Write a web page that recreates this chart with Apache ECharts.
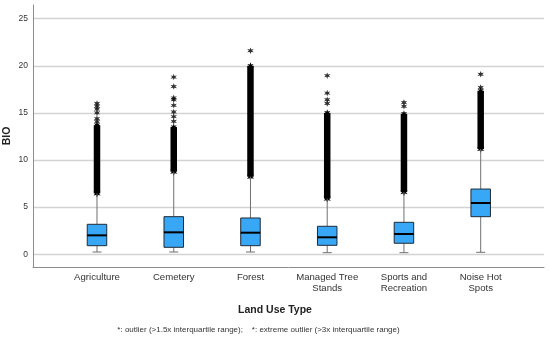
<!DOCTYPE html>
<html><head><meta charset="utf-8">
<script src="https://cdn.jsdelivr.net/npm/echarts@6/dist/echarts.min.js"></script>
<style>html,body{margin:0;padding:0;background:#fff}#c{width:550px;height:337px}</style>
</head><body><div id="c"></div>
<script>
const categories = ['Agriculture', 'Cemetery', 'Forest', 'Managed Tree\nStands', 'Sports and\nRecreation', 'Noise Hot\nSpots'];
// [lower whisker, Q1, median, Q3, upper whisker]
const boxStats = [
  [0.24, 0.91, 2.01, 3.18, 6.45],
  [0.24, 0.74, 2.33, 3.99, 8.76],
  [0.24, 0.91, 2.29, 3.85, 8.23],
  [0.17, 0.95, 1.80, 2.97, 5.90],
  [0.17, 1.17, 2.15, 3.39, 6.60],
  [0.21, 3.99, 5.44, 6.92, 11.17]
];
// ranges where outlier symbols overlap into a solid column
const denseOutlierRanges = [
  [6.45, 13.7], [8.76, 13.5], [8.23, 20.0], [5.90, 15.0], [6.60, 14.9], [11.17, 17.35]
];
// individually visible outliers
const sparseOutliers = [
  [14.07, 14.4, 15.0, 15.4, 15.7, 16.0],
  [14.1, 14.6, 15.1, 15.8, 16.4, 16.6, 17.8, 18.8],
  [21.6],
  [16.0, 16.4, 17.1, 18.95],
  [15.7, 16.1],
  [17.7, 19.1]
];
const yTicks = [0, 5, 10, 15, 20, 25];
const xTicks = [0, 1, 2, 3, 4, 5];
const yTitle = 'BIO';
const xTitle = 'Land Use Type';
const footnote = '*: outlier (>1.5x interquartile range);    *: extreme outlier (>3x interquartile range)';

function starPoints(cx, cy, r) {
  const pts = [];
  for (let k = 0; k < 12; k++) {
    const rr = k % 2 ? r * 0.42 : r;
    const a = Math.PI * k / 6 - Math.PI / 2;
    pts.push([cx + rr * Math.cos(a), cy + rr * Math.sin(a)]);
  }
  return pts;
}
function starPath() {
  return 'path://' + starPoints(0, 0, 1).map((p, k) => (k ? 'L' : 'M') + p[0].toFixed(3) + ' ' + p[1].toFixed(3)).join('') + 'Z';
}

const FONT = '"Liberation Sans", Arial, sans-serif';
const chart = echarts.init(document.getElementById('c'), null, {renderer: 'canvas'});

const option = {
  animation: false,
  backgroundColor: '#fff',
  grid: {left: 33, right: 6, top: 5, bottom: 70, containLabel: false},
  xAxis: {
    type: 'value', min: -0.834, max: 5.825,
    axisLine: {show: true, onZero: false, lineStyle: {color: '#8c8c8c', width: 1}},
    axisTick: {show: false, customValues: xTicks},
    splitLine: {show: false},
    axisLabel: {
      customValues: xTicks,
      formatter: v => categories[Math.round(v)],
      fontSize: 9.6, color: '#333', lineHeight: 11, margin: 5, fontFamily: FONT
    }
  },
  yAxis: {
    type: 'value', min: -1.35, max: 26.45,
    axisLine: {show: true, onZero: false, lineStyle: {color: '#8c8c8c', width: 1}},
    axisTick: {show: false, customValues: yTicks},
    axisLabel: {customValues: yTicks, fontSize: 8.5, color: '#333', margin: 5, fontFamily: FONT},
    splitLine: {show: true, lineStyle: {color: '#d3d3d3', width: 1.3}}
  },
  graphic: [
    {type: 'text', x: 7.5, y: 136, rotation: Math.PI / 2,
     style: {text: yTitle, font: 'bold 10.5px ' + FONT, fill: '#222', align: 'center', verticalAlign: 'middle'}},
    {type: 'text', x: 275, y: 310,
     style: {text: xTitle, font: 'bold 10.5px ' + FONT, fill: '#222', align: 'center', verticalAlign: 'middle'}},
    {type: 'text', x: 258.5, y: 329.5,
     style: {text: footnote, font: '8px ' + FONT, fill: '#333', align: 'center', verticalAlign: 'middle'}}
  ],
  series: [
    {
      type: 'custom', z: 3,
      dimensions: ['cat', 'lo', 'hi'],
      encode: {x: 0, y: [1, 2]},
      data: denseOutlierRanges.map((r, i) => [i, r[0], r[1]]),
      renderItem: (params, api) => {
        const lo = api.coord([api.value(0), api.value(1)]);
        const hi = api.coord([api.value(0), api.value(2)]);
        const w = 6.5;
        return {type: 'group', children: [
          {type: 'rect', shape: {x: lo[0] - w / 2, y: hi[1], width: w, height: lo[1] - hi[1]}, style: {fill: '#000'}},
          {type: 'polygon', shape: {points: starPoints(lo[0], lo[1], 4.2)}, style: {fill: '#000'}},
          {type: 'polygon', shape: {points: starPoints(hi[0], hi[1], 3.6)}, style: {fill: '#000'}}
        ]};
      }
    },
    {
      type: 'scatter', z: 3,
      symbol: starPath(), symbolSize: 6.5,
      itemStyle: {color: '#000'},
      data: sparseOutliers.flatMap((arr, i) => arr.map(v => [i, v]))
    },
    {
      type: 'custom', z: 4,
      dimensions: ['cat', 'lw', 'q1', 'md', 'q3', 'uw'],
      encode: {x: 0, y: [1, 2, 3, 4, 5]},
      data: boxStats.map((s, i) => [i].concat(s)),
      renderItem: (params, api) => {
        const i = api.value(0);
        const y = k => api.coord([i, api.value(k)])[1];
        const x = api.coord([i, 0])[0];
        const lw = y(1), q1 = y(2), md = y(3), q3 = y(4), uw = y(5);
        const bw = 19.5, cw = 9;
        return {type: 'group', children: [
          {type: 'line', shape: {x1: x, y1: lw, x2: x, y2: q1}, style: {stroke: '#707070', lineWidth: 1}},
          {type: 'line', shape: {x1: x, y1: q3, x2: x, y2: uw}, style: {stroke: '#707070', lineWidth: 1}},
          {type: 'line', shape: {x1: x - cw / 2, y1: lw, x2: x + cw / 2, y2: lw}, style: {stroke: '#707070', lineWidth: 1}},
          {type: 'rect', shape: {x: x - bw / 2, y: q3, width: bw, height: q1 - q3},
           style: {fill: '#38a8f6', stroke: '#1e2a36', lineWidth: 1}},
          {type: 'line', shape: {x1: x - bw / 2, y1: md, x2: x + bw / 2, y2: md}, style: {stroke: '#000', lineWidth: 2}}
        ]};
      }
    }
  ]
};
chart.setOption(option);
</script>
</body></html>
